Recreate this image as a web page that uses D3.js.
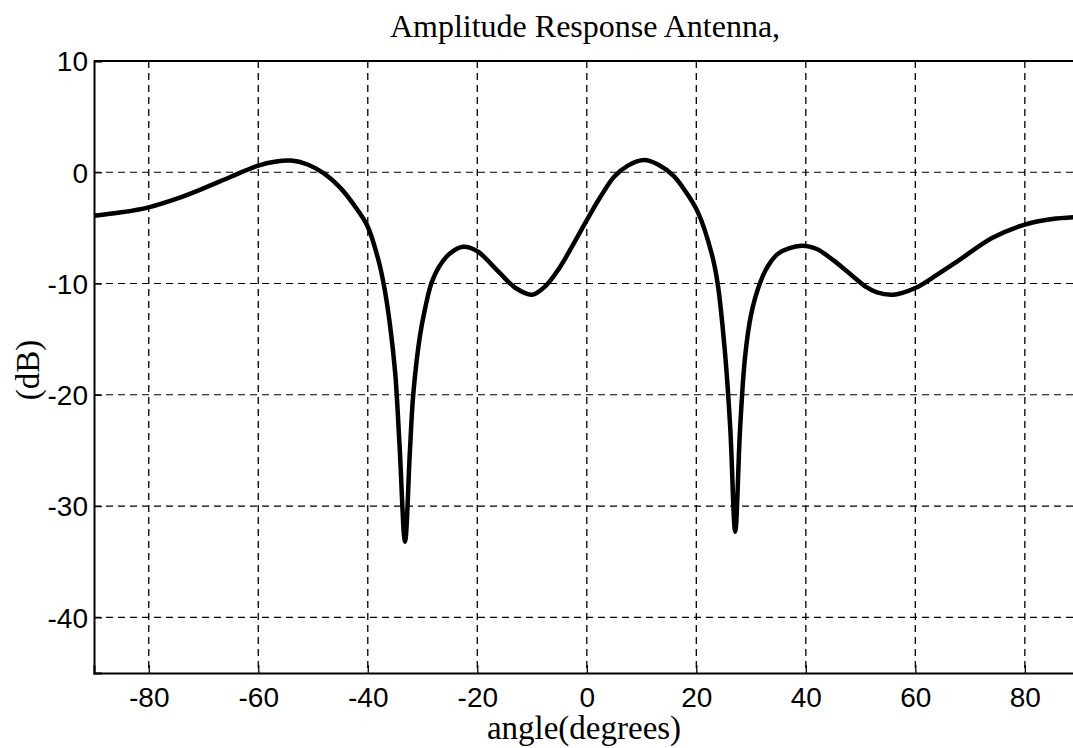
<!DOCTYPE html>
<html>
<head>
<meta charset="utf-8">
<script src="https://cdn.jsdelivr.net/npm/d3@7"></script>
<style>
  body { margin: 0; background: #fff; }
  svg { display: block; }
</style>
</head>
<body>
<svg id="chart" width="1073" height="748"></svg>
<script>
// data
const angles = [-90, -85, -80, -75, -70, -65, -60, -57, -54, -51, -48, -45, -42, -40, -38, -37, -36, -35, -34.2, -33.2, -32.3, -31.7, -30.5, -29.6, -28.4, -27, -25, -22.6, -20, -16, -13, -10, -7.5, -5, -2.5, 0, 2.5, 5, 7.5, 10.5, 13, 15.8, 18, 20.3, 22.8, 23.9, 25.2, 26.2, 27.1, 28, 28.9, 30, 31.6, 33, 35, 39.2, 42, 45, 48, 51, 53, 56, 60, 64, 68, 74, 80, 85, 90];
const amplitude = [-3.9, -3.6, -3.15, -2.4, -1.45, -0.4, 0.6, 0.95, 1.05, 0.7, -0.1, -1.4, -3.3, -4.9, -8.0, -10.3, -13.5, -18, -24.5, -33.2, -25, -20, -14.8, -12.4, -10, -8.5, -7.3, -6.7, -7.1, -9.0, -10.4, -11, -10.2, -8.6, -6.5, -4.3, -2.2, -0.4, 0.6, 1.1, 0.7, -0.3, -1.7, -3.6, -7.3, -10, -16, -23, -32.3, -23, -16.6, -12.8, -10, -8.5, -7.3, -6.6, -6.9, -7.9, -9.1, -10.3, -10.8, -11, -10.4, -9.2, -7.9, -5.9, -4.7, -4.2, -4.0];
const xTicks = [-80, -60, -40, -20, 0, 20, 40, 60, 80];
const yTicks = [10, 0, -10, -20, -30, -40];

const svg = d3.select("#chart");

// plot box (right edge falls just outside the picture)
const plotLeft = 94, plotRight = 1079.6, plotTop = 61, plotBottom = 673;

const x = d3.scaleLinear().domain([-90, 90]).range([plotLeft, plotRight]);
const y = d3.scaleLinear().domain([-45, 10]).range([plotBottom, plotTop]);

const data = angles.map((a, i) => ({ a: a, v: amplitude[i] }));

// dashed grid
svg.append("g")
  .selectAll("line")
  .data(xTicks)
  .join("line")
  .attr("x1", d => x(d)).attr("x2", d => x(d))
  .attr("y1", plotTop).attr("y2", plotBottom)
  .attr("stroke", "#000")
  .attr("stroke-width", 1.3)
  .attr("stroke-dasharray", "7,5");

svg.append("g")
  .selectAll("line")
  .data(yTicks.filter(d => d !== 10))
  .join("line")
  .attr("x1", plotLeft).attr("x2", plotRight)
  .attr("y1", d => y(d)).attr("y2", d => y(d))
  .attr("stroke", "#000")
  .attr("stroke-width", 1.1)
  .attr("stroke-dasharray", "7,5");

// axes, plain hyphen for negatives like the original
const fmt = d => String(d);
const xAxis = d3.axisBottom(x).tickValues(xTicks).tickSize(-8).tickPadding(14).tickFormat(fmt);
const yAxis = d3.axisLeft(y).tickValues(yTicks).tickSize(-8).tickPadding(6).tickFormat(fmt);

const gx = svg.append("g").attr("transform", `translate(0,${plotBottom})`).call(xAxis);
const gy = svg.append("g").attr("transform", `translate(${plotLeft},0)`).call(yAxis);

[gx, gy].forEach(g => {
  g.select(".domain").attr("stroke", "#000").attr("stroke-width", 2);
  g.selectAll(".tick line").attr("stroke", "#000").attr("stroke-width", 1.3);
  g.selectAll(".tick text")
    .attr("fill", "#000")
    .style("font-family", "'Liberation Sans', Arial, sans-serif")
    .style("font-size", "28px");
});
gx.selectAll(".tick text").attr("dy", "0.71em");
gy.selectAll(".tick text").attr("dy", "0.35em");

// top border
svg.append("line")
  .attr("x1", plotLeft).attr("x2", plotRight)
  .attr("y1", plotTop).attr("y2", plotTop)
  .attr("stroke", "#000").attr("stroke-width", 2);

// response curve
const line = d3.line()
  .x(d => x(d.a))
  .y(d => y(d.v))
  .curve(d3.curveCatmullRom.alpha(0.5));

svg.append("path")
  .datum(data)
  .attr("d", line)
  .attr("fill", "none")
  .attr("stroke", "#000")
  .attr("stroke-width", 4.5)
  .attr("stroke-linejoin", "round");

// texts
const serif = "'Liberation Serif', 'Times New Roman', serif";

svg.append("text")
  .attr("x", 585).attr("y", 37)
  .attr("text-anchor", "middle")
  .style("font-family", serif).style("font-size", "32px")
  .text("Amplitude Response Antenna,");

svg.append("text")
  .attr("x", 584).attr("y", 739)
  .attr("text-anchor", "middle")
  .style("font-family", serif).style("font-size", "33px")
  .text("angle(degrees)");

svg.append("text")
  .attr("transform", "translate(39,370) rotate(-90)")
  .attr("text-anchor", "middle")
  .style("font-family", serif).style("font-size", "33px")
  .text("(dB)");
</script>
</body>
</html>
